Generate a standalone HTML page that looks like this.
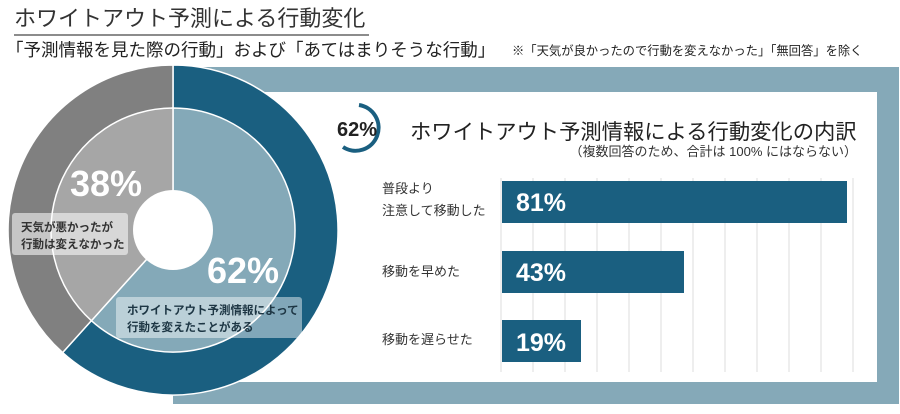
<!DOCTYPE html>
<html><head><meta charset="utf-8"><style>
body{margin:0;background:#fff;}
svg text{font-family:"Liberation Sans","Noto Sans CJK JP",sans-serif;}
</style></head><body>
<svg width="900" height="409" viewBox="0 0 900 409" xmlns="http://www.w3.org/2000/svg">
<rect width="900" height="409" fill="#fff"/>
<text x="14" y="26" font-size="22" fill="#333">ホワイトアウト予測による行動変化</text>
<line x1="14" y1="35" x2="369" y2="35" stroke="#666" stroke-width="1.5"/>
<text x="6" y="56" font-size="17.5" fill="#222">「予測情報を見た際の行動」および「あてはまりそうな行動」</text>
<text x="512" y="55" font-size="12.3" fill="#222">※「天気が良かったので行動を変えなかった」「無回答」を除く</text>
<rect x="173" y="67" width="726" height="337" fill="#85a9b8"/>
<rect x="173" y="92" width="704" height="290" fill="#fff"/>
<g stroke="#e3e3e3" stroke-width="1.2">
<line x1="501" y1="178" x2="501" y2="372"/><line x1="533" y1="178" x2="533" y2="372"/><line x1="565" y1="178" x2="565" y2="372"/><line x1="597" y1="178" x2="597" y2="372"/><line x1="629" y1="178" x2="629" y2="372"/><line x1="661" y1="178" x2="661" y2="372"/><line x1="693" y1="178" x2="693" y2="372"/><line x1="725" y1="178" x2="725" y2="372"/><line x1="757" y1="178" x2="757" y2="372"/><line x1="789" y1="178" x2="789" y2="372"/><line x1="821" y1="178" x2="821" y2="372"/><line x1="853" y1="178" x2="853" y2="372"/>
</g>
<g fill="#1a5f80">
<rect x="502" y="181" width="345" height="42"/>
<rect x="502" y="251" width="182" height="42"/>
<rect x="502" y="320" width="79" height="42"/>
</g>
<g fill="#fff" font-weight="bold" font-size="25">
<text x="516" y="211">81%</text><text x="516" y="281">43%</text><text x="516" y="351">19%</text>
</g>
<g font-size="13" fill="#333">
<text x="382" y="193">普段より</text><text x="382" y="215">注意して移動した</text>
<text x="382" y="276">移動を早めた</text><text x="382" y="344">移動を遅らせた</text>
</g>
<path d="M359 105 A23 23 0 1 1 343 147" fill="none" stroke="#1a5f80" stroke-width="4"/>
<text x="337" y="136" font-size="20" font-weight="bold" fill="#222">62%</text>
<text x="410" y="139" font-size="21.3" fill="#222">ホワイトアウト予測情報による行動変化の内訳</text>
<text x="857" y="156" font-size="13" fill="#333" text-anchor="end">（複数回答のため、合計は 100% にはならない）</text>
<g stroke="#fff" stroke-width="1.5">
<path d="M173 230 L173 65 A165 165 0 1 1 62.6 352.6 Z" fill="#1a5f80"/>
<path d="M173 230 L62.6 352.6 A165 165 0 0 1 173 65 Z" fill="#808080"/>
<path d="M173 230 L173 108 A122 122 0 1 1 91.4 320.7 Z" fill="#84a9b8"/>
<path d="M173 230 L91.4 320.7 A122 122 0 0 1 173 108 Z" fill="#a6a6a6"/>
</g>
<circle cx="173" cy="230" r="40" fill="#fff"/>
<text x="70" y="196" font-size="36" font-weight="bold" fill="#fff">38%</text>
<text x="207" y="283" font-size="36" font-weight="bold" fill="#fff">62%</text>
<rect x="12" y="213" width="116" height="42" rx="3" fill="#fff" fill-opacity="0.55"/>
<text x="21" y="231" font-size="11.5" font-weight="bold" fill="#333">天気が悪かったが</text>
<text x="21" y="248" font-size="11.5" font-weight="bold" fill="#333">行動は変えなかった</text>
<rect x="116" y="297" width="186" height="41" rx="3" fill="#fff" fill-opacity="0.45"/>
<text x="127" y="314" font-size="11.5" font-weight="bold" fill="#1d3644">ホワイトアウト予測情報によって</text>
<text x="127" y="331" font-size="11.5" font-weight="bold" fill="#1d3644">行動を変えたことがある</text>
</svg>
</body></html>
